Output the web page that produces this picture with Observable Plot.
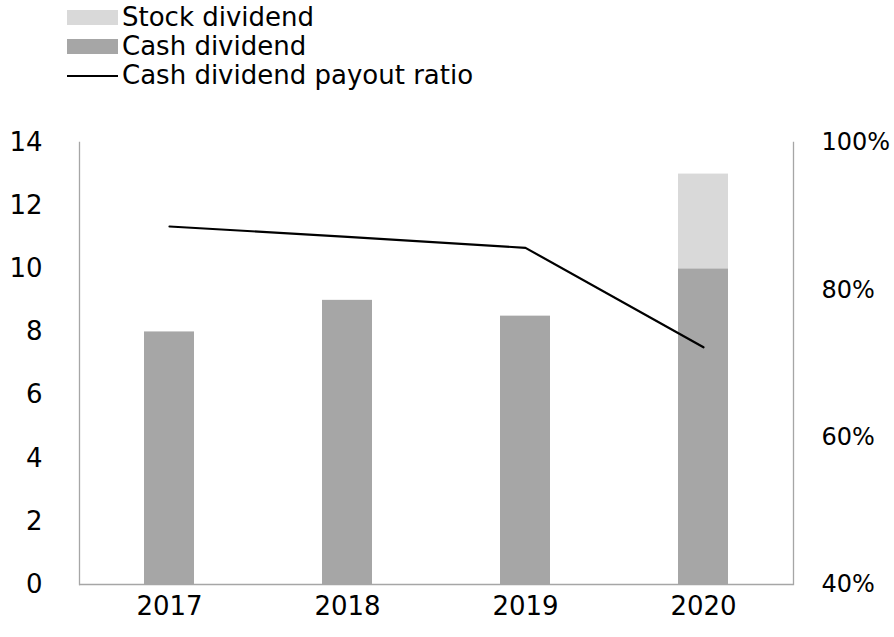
<!DOCTYPE html>
<html><head><meta charset="utf-8">
<script src="https://cdn.jsdelivr.net/npm/d3@7"></script>
<script src="https://cdn.jsdelivr.net/npm/@observablehq/plot@0.6"></script>
<style>
body{margin:0;background:#fff;font-family:"DejaVu Sans",sans-serif;}
#legend{position:relative;height:100px;width:894px;}
.item{position:absolute;left:67px;display:flex;align-items:center;font-size:26px;color:#000;line-height:29px;white-space:nowrap;}
.sw{width:51px;height:15px;margin-right:4px;}
.ln{width:51px;height:2px;background:#000;margin-right:4px;}
</style></head>
<body>
<div id="legend"></div>
<div id="chart"></div>
<script>
const years = ["2017","2018","2019","2020"];
const cashDividend = [8, 9, 8.5, 10];
const stockDividend = [0, 0, 0, 3];
const payoutRatio = [0.886, 0.872, 0.857, 0.722];
const leftTicks = [0,2,4,6,8,10,12,14];
const rightTicks = [0.4,0.6,0.8,1.0];
const seriesNames = ["Stock dividend","Cash dividend","Cash dividend payout ratio"];
const colors = {"Stock dividend":"#d9d9d9","Cash dividend":"#a6a6a6"};

// legend
const leg = document.getElementById("legend");
seriesNames.forEach((n,i)=>{
  const d=document.createElement("div");d.className="item";d.style.top=(3+i*29)+"px";
  const s=document.createElement("div");
  if(i<2){s.className="sw";s.style.background=colors[n];}else{s.className="ln";}
  d.appendChild(s);d.appendChild(document.createTextNode(n));leg.appendChild(d);
});

const bars = [];
years.forEach((y,i)=>{bars.push({year:y,type:"Cash dividend",value:cashDividend[i]});});
years.forEach((y,i)=>{bars.push({year:y,type:"Stock dividend",value:stockDividend[i]});});
const toLeft = r => (r-0.4)/0.6*14;
const lineData = years.map((y,i)=>({year:y,v:toLeft(payoutRatio[i])}));

const chart = Plot.plot({
  width:894, height:537,
  marginTop:42, marginBottom:53, marginLeft:79, marginRight:101,
  style:{fontFamily:"DejaVu Sans, sans-serif", fontSize:"26px", color:"#000", background:"#fff", overflow:"visible"},
  x:{domain:years, paddingInner:0.72, paddingOuter:0.36, label:null},
  y:{domain:[0,14], label:null},
  color:{domain:Object.keys(colors), range:Object.values(colors)},
  marks:[
    Plot.barY(bars,{x:"year",y:"value",fill:"type"}),
    Plot.line(lineData,{x:"year",y:"v",stroke:"#000",strokeWidth:2.2}),
    Plot.frame({anchor:"left",stroke:"#a6a6a6",strokeWidth:1.3}),
    Plot.frame({anchor:"right",stroke:"#a6a6a6",strokeWidth:1.3}),
    Plot.ruleY([0],{stroke:"#a6a6a6",strokeWidth:1.3}),
    Plot.axisY({anchor:"left",ticks:leftTicks,tickSize:0,tickPadding:37,label:null,fontSize:26}),
    Plot.axisY({anchor:"right",ticks:rightTicks.map(toLeft),tickSize:0,tickPadding:28,label:null,fontSize:24,
      tickFormat:v=>Math.round(v/14*60+40)+"%"}),
    Plot.axisX({tickSize:0,tickPadding:12,label:null,fontSize:26})
  ]
});
document.getElementById("chart").appendChild(chart);
</script>
</body></html>
